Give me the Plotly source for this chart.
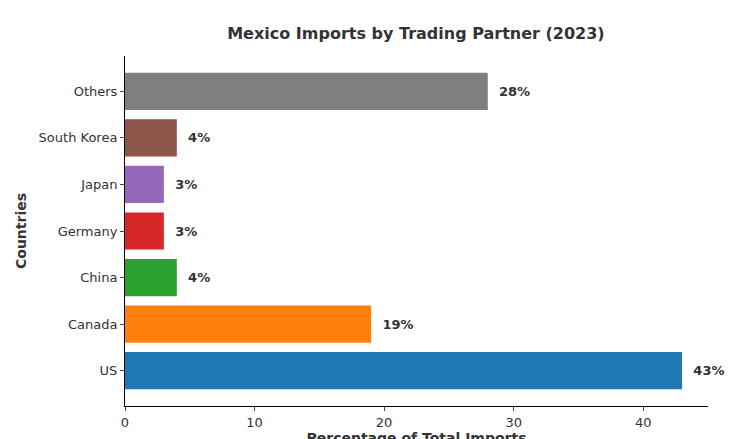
import plotly.graph_objects as go

countries = ["US", "Canada", "China", "Germany", "Japan", "South Korea", "Others"]
shares = [43, 19, 4, 3, 3, 4, 28]
colors = ["#1f77b4", "#ff7f0e", "#2ca02c", "#d62728", "#9467bd", "#8c564b", "#7f7f7f"]

fig = go.Figure(go.Bar(
    x=shares, y=list(range(len(countries))), orientation="h", width=0.8,
    marker_color=colors, marker_line_width=0,
    text=[f"{v}%" for v in shares], textposition="outside",
    textfont=dict(size=13, color="#333333", family="DejaVu Sans"),
    cliponaxis=False,
))
fig.update_traces(texttemplate="  <b>%{text}</b>")

fig.update_layout(
    width=735, height=439, plot_bgcolor="white", paper_bgcolor="white",
    margin=dict(l=117, r=35, t=48, b=41, autoexpand=False),
    font=dict(family="DejaVu Sans", size=13, color="#333333"),
    title=dict(text="<b>Mexico Imports by Trading Partner (2023)</b>", x=0.555, xanchor="center",
               y=0.955, font=dict(size=16, color="#333333")),
    showlegend=False,
)
fig.update_xaxes(range=[0, 45], tickvals=[0, 10, 20, 30, 40], showgrid=False, zeroline=False,
                 showline=True, linecolor="black", ticks="outside", ticklen=4, automargin=False,
                 title=dict(text="<b>Percentage of Total Imports</b>", font=dict(size=14), standoff=4))
fig.update_yaxes(range=[-0.76, 6.76], tickvals=list(range(len(countries))), ticktext=countries,
                 showgrid=False, zeroline=False, showline=True, linecolor="black",
                 ticks="outside", ticklen=4, automargin=False,
                 title=dict(text="<b>Countries</b>", font=dict(size=14), standoff=8))

fig.write_html("out.html")
